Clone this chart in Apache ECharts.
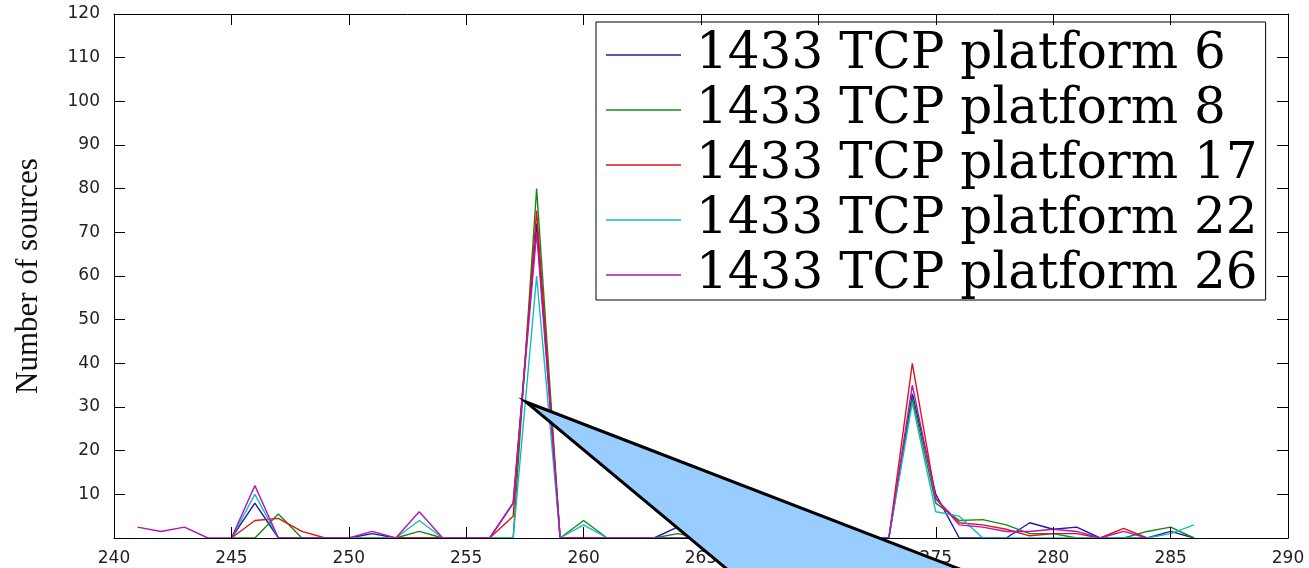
<!DOCTYPE html>
<html>
<head>
<meta charset="utf-8">
<script src="https://cdn.jsdelivr.net/npm/echarts@6/dist/echarts.min.js"></script>
<style>
  html, body { margin: 0; padding: 0; background: #fff; }
  #chart { width: 1309px; height: 568px; }
</style>
</head>
<body>
<div id="chart"></div>
<script>
// x positions (241 .. 286)
var xs = [241, 242, 243, 244, 245, 246, 247, 248, 249, 250,
  251, 252, 253, 254, 255, 256, 257, 258, 259, 260,
  261, 262, 263, 264, 265, 266, 267, 268, 269, 270,
  271, 272, 273, 274, 275, 276, 277, 278, 279, 280,
  281, 282, 283, 284, 285, 286];

var names = ['1433 TCP platform 6', '1433 TCP platform 8', '1433 TCP platform 17',
  '1433 TCP platform 22', '1433 TCP platform 26'];

var p6 = [null, null, null, null, 0, 8, 0, 0, 0, 0,
  1, 0, 0, 0, 0, 0, 8, 72, 0, 0,
  0, 0, 0, 2.5, 0, 0, 0, 0, 0, 0,
  0, 0, 0, 33, 10, 0, 0, 0, 3.5, 2,
  2.5, 0, 0, 0, 1.5, 0];
var p8 = [null, null, null, null, 0, 0, 5.5, 0, 0, 0,
  0, 0, 1.5, 0, 0, 0, 0, 80, 0, 4,
  0, 0, 0, 1, 0, 0, 0, 0, 0, 0,
  0, 0, 0, 32, 8, 4, 4.2, 3, 1, 1,
  0, 0, 0, 1.5, 2.5, 0];
var p17 = [null, null, null, null, 0, 4, 4.5, 1.5, 0, 0,
  0, 0, 0, 0, 0, 0, 5, 75, 0, 0,
  0, 0, 0, 0, 0, 0, 0, 0, 0, 0,
  0, 0, 0, 40, 9, 3.5, 3, 2, 0.5, 1,
  1, 0, 2.2, 0, null, null];
var p22 = [null, null, null, null, 0, 10, 0, 0, 0, 0,
  0, 0, 4, 0, 0, 0, 0, 60, 0, 3,
  0, 0, 0, 0, 0, 0, 0, 0, 0, 0,
  0, 0, 0, 31, 6, 5, 0, 0, 0, 0,
  0, 0, 0, 0, 1, 3];
var p26 = [2.5, 1.5, 2.5, 0, 0, 12, 0, 0, 0, 0,
  1.5, 0, 6, 0, 0, 0, 8, 70, 0, 0,
  0, 0, 0, 0, 0, 0, 0, 0, 0, 0,
  0, 0, 0, 35, 9, 3, 2.5, 1.5, 1.5, 2,
  1.5, 0, 1.5, 0, null, null];

var colors = ['#1c1ca8', '#148a14', '#dd1515', '#12bcbc', '#b814b8'];
var allData = [p6, p8, p17, p22, p26];

var chart = echarts.init(document.getElementById('chart'));

function pairs (vals) {
  return xs.map(function (x, i) { return [x, vals[i]]; });
}

var labelStyle = {
  fontFamily: 'DejaVu Sans',
  fontSize: 17,
  color: '#222'
};

var tickStyle = {
  show: true,
  inside: true,
  length: 11,
  lineStyle: { color: '#000', width: 1 }
};

chart.setOption({
  animation: false,
  backgroundColor: '#fff',
  color: colors,
  grid: { left: 114, right: 21, top: 14, bottom: 30, containLabel: false },
  legend: {
    data: names,
    orient: 'vertical',
    left: 596,
    top: 22,
    padding: [8, 8, 0, 10],
    itemGap: 5,
    icon: 'rect',
    itemWidth: 75,
    itemHeight: 1.5,
    backgroundColor: '#fff',
    borderColor: '#000',
    borderWidth: 1,
    borderRadius: 0,
    textStyle: {
      fontFamily: 'DejaVu Serif',
      fontSize: 50,
      lineHeight: 50,
      color: '#000',
      padding: [0, 0, 0, 10]
    }
  },
  xAxis: [
    {
      type: 'value', min: 240, max: 290, interval: 5, z: 10,
      splitLine: { show: false },
      axisLine: { onZero: false, lineStyle: { color: '#000', width: 1 } },
      axisTick: tickStyle,
      axisLabel: Object.assign({ margin: 12 }, labelStyle)
    },
    {
      type: 'value', min: 240, max: 290, interval: 5, position: 'top', z: 10,
      splitLine: { show: false },
      axisLine: { onZero: false, lineStyle: { color: '#000', width: 1 } },
      axisTick: tickStyle,
      axisLabel: { show: false }
    }
  ],
  yAxis: [
    {
      type: 'value', min: 0, max: 120, interval: 10, z: 10,
      name: 'Number of sources',
      nameLocation: 'middle',
      nameGap: 70,
      nameTextStyle: { fontFamily: 'Liberation Serif', fontSize: 31, color: '#111' },
      splitLine: { show: false },
      axisLine: { show: true, lineStyle: { color: '#000', width: 1 } },
      axisTick: tickStyle,
      axisLabel: Object.assign({
        margin: 14,
        formatter: function (v) { return v === 0 ? '' : String(v); }
      }, labelStyle)
    },
    {
      type: 'value', min: 0, max: 120, interval: 10, position: 'right', z: 10,
      splitLine: { show: false },
      axisLine: { show: true, lineStyle: { color: '#000', width: 1 } },
      axisTick: tickStyle,
      axisLabel: { show: false }
    }
  ],
  series: names.map(function (n, i) {
    return {
      name: n,
      type: 'line',
      symbol: 'none',
      connectNulls: false,
      lineStyle: { width: 1.4, color: colors[i] },
      itemStyle: { color: colors[i] },
      data: pairs(allData[i])
    };
  }),
  // callout shape over the plot
  graphic: [
    {
      type: 'polygon',
      z: 100,
      shape: { points: [[526, 402], [988, 580], [740, 580]] },
      style: { fill: '#99ccff', stroke: '#000', lineWidth: 3, lineJoin: 'miter' }
    }
  ]
});
</script>
</body>
</html>
